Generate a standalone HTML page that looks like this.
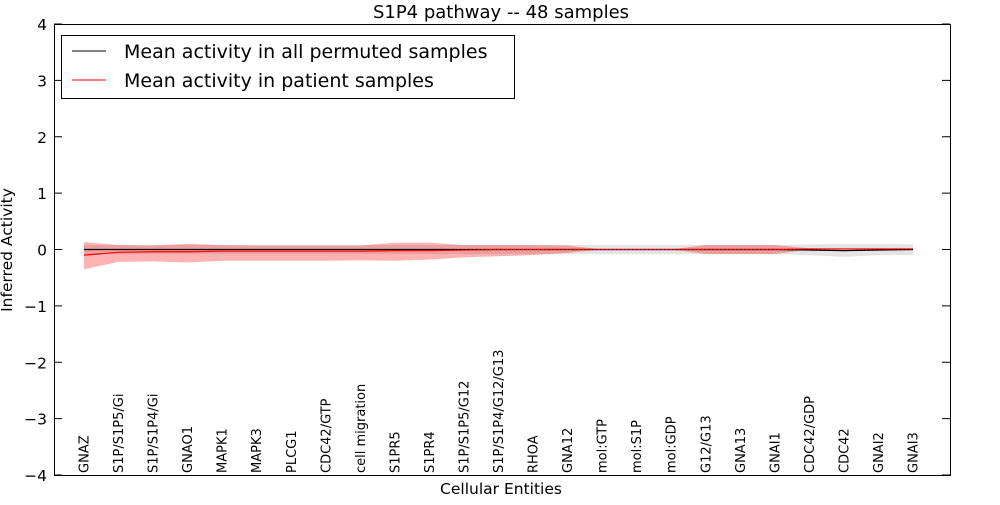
<!DOCTYPE html>
<html><head><meta charset="utf-8"><style>
body{margin:0;background:#fff;font-family:"Liberation Sans","DejaVu Sans",sans-serif}
svg text{font-family:"DejaVu Sans","Liberation Sans",sans-serif}
</style></head><body>
<svg id="chart" width="1000" height="500" xmlns="http://www.w3.org/2000/svg">
<rect width="1000" height="500" fill="#fff"/>
<g id="bands"></g>
<g id="lines"></g>
<rect x="54.5" y="24.5" width="896" height="451" fill="none" stroke="#000"/>
<g id="axes"></g>
<g id="xlabels"></g>
<text x="501" y="18" font-size="18" text-anchor="middle">S1P4 pathway -- 48 samples</text>
<text x="501" y="494" font-size="15.5" text-anchor="middle">Cellular Entities</text>
<text transform="translate(12,250) rotate(-90)" font-size="15.5" text-anchor="middle">Inferred Activity</text>
<g>
<rect x="61.5" y="35.5" width="453" height="63" fill="#fff" stroke="#000"/>
<line x1="72" y1="51" x2="106" y2="51" stroke="#000"/>
<text x="124" y="58" font-size="19">Mean activity in all permuted samples</text>
<line x1="72" y1="80" x2="106" y2="80" stroke="#f00"/>
<text x="124" y="87" font-size="19">Mean activity in patient samples</text>
</g>
</svg>
<script>
const categories=["GNAZ","S1P/S1P5/Gi","S1P/S1P4/Gi","GNAO1","MAPK1","MAPK3","PLCG1","CDC42/GTP","cell migration","S1PR5","S1PR4","S1P/S1P5/G12","S1P/S1P4/G12/G13","RHOA","GNA12","mol:GTP","mol:S1P","mol:GDP","G12/G13","GNA13","GNAI1","CDC42/GDP","CDC42","GNAI2","GNAI3"];
const permMean=[0,0,0,0,0,0,0,0,0,0,0,0,0,0,0,0,0,0,0,0,0,-0.01,-0.02,-0.01,0];
const permUpper=[0.08,0.08,0.08,0.08,0.08,0.08,0.08,0.08,0.08,0.08,0.08,0.08,0.08,0.08,0.08,0.08,0.08,0.08,0.08,0.08,0.08,0.09,0.1,0.1,0.09];
const permLower=[-0.08,-0.08,-0.08,-0.08,-0.08,-0.08,-0.08,-0.08,-0.08,-0.08,-0.08,-0.08,-0.08,-0.08,-0.08,-0.08,-0.08,-0.08,-0.08,-0.08,-0.08,-0.1,-0.13,-0.1,-0.1];
const patMean=[-0.1,-0.05,-0.04,-0.04,-0.03,-0.03,-0.03,-0.03,-0.03,-0.02,-0.02,-0.01,0,0,0,0,0,0,0,0,0,0.01,0.01,0.01,0.01];
const patUpper=[0.13,0.08,0.07,0.1,0.08,0.07,0.07,0.07,0.07,0.12,0.12,0.08,0.08,0.08,0.07,0,0,0,0.08,0.08,0.08,0.02,0.02,0.02,0.02];
const patLower=[-0.35,-0.22,-0.21,-0.23,-0.2,-0.2,-0.2,-0.2,-0.19,-0.2,-0.18,-0.14,-0.12,-0.1,-0.06,0,0,0,-0.08,-0.08,-0.08,0,0,0,0];
const yTicks=[4,3,2,1,0,-1,-2,-3,-4];
const yTickLabels=["4","3","2","1","0","\u22121","\u22122","\u22123","\u22124"];
const NS="http://www.w3.org/2000/svg";
const x=i=>84+i*(913-84)/(categories.length-1);
const y=v=>249.5-v*56.375;
function mk(tag,attrs,parent){const e=document.createElementNS(NS,tag);for(const k in attrs)e.setAttribute(k,attrs[k]);document.getElementById(parent).appendChild(e);return e;}
function band(up,lo){let d="M"+up.map((v,i)=>x(i)+","+y(v)).join("L");for(let i=lo.length-1;i>=0;i--)d+="L"+x(i)+","+y(lo[i]);return d+"Z";}
function line(a){return "M"+a.map((v,i)=>x(i)+","+y(v)).join("L");}
let b=mk("path",{d:band(permUpper,permLower),fill:"#bbb","fill-opacity":"0.4"},"bands");


b=mk("path",{d:band(patUpper,patLower),fill:"#f00","fill-opacity":"0.3"},"bands");


let l=mk("path",{d:line(permMean),fill:"none",stroke:"#000","stroke-width":"1.2"},"lines");


l=mk("path",{d:line(patMean),fill:"none",stroke:"#f00","stroke-width":"1.2"},"lines");


l=mk("path",{d:line(permMean),fill:"none",stroke:"#000","stroke-width":"1","stroke-dasharray":"1,3"},"lines");


yTicks.forEach((v,i)=>{
 const t=mk("line",{x1:54,x2:62,y1:y(v),y2:y(v),stroke:"#000"},"axes");
 
 
 const t2=mk("line",{x1:942,x2:950,y1:y(v),y2:y(v),stroke:"#000"},"axes");
 
 
 const tx=mk("text",{x:47,y:y(v)+6,"font-size":"15.5","text-anchor":"end"},"axes");
 tx.textContent=yTickLabels[i];
 
 
});
categories.forEach((c,i)=>{
 const t=mk("text",{transform:"translate("+(x(i)+4.5)+",473) rotate(-90)","font-size":"13"},"xlabels");
 t.textContent=c;
 
 
});
</script>
</body></html>
